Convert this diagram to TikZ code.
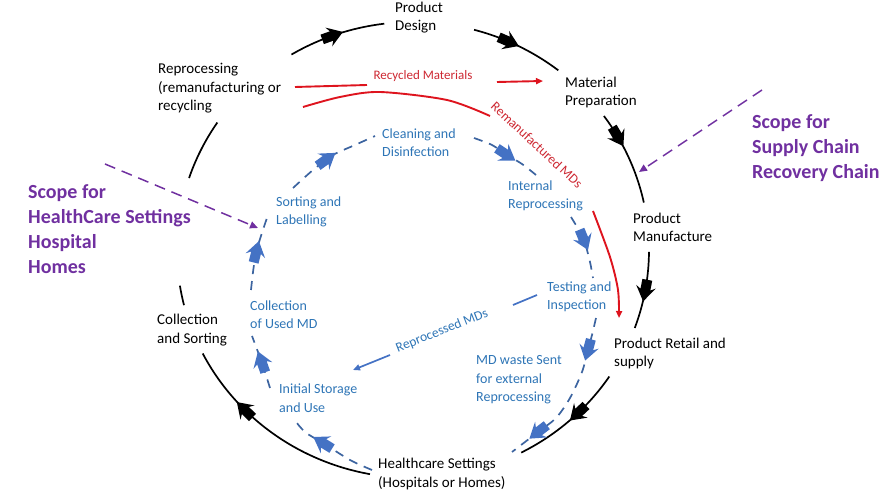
\documentclass[tikz,border=0pt]{standalone}
\usepackage{fontspec}
\setmainfont{Carlito}
\usetikzlibrary{arrows.meta,decorations.markings}
\definecolor{bluetxt}{RGB}{46,117,182}
\definecolor{bluearr}{RGB}{68,114,196}
\definecolor{bluedash}{RGB}{60,100,160}
\definecolor{redln}{RGB}{222,20,30}
\definecolor{redtxt}{RGB}{205,40,50}
\definecolor{purp}{RGB}{112,48,160}
\newcommand\fatarrowK{\fill[black] (-11,-5) -- (-1,-5) -- (-4,-10) -- (11,0) -- (-4,10) -- (-1,5) -- (-11,5) -- cycle;}
\newcommand\fatarrowB{\fill[bluearr] (-11,-5) -- (-1,-5) -- (-4,-10) -- (11,0) -- (-4,10) -- (-1,5) -- (-11,5) -- cycle;}
\begin{document}
\begin{tikzpicture}[x=1pt,y=-1pt,
  outer/.style={line width=1.7pt, black},
  inner/.style={line width=1.7pt, bluedash, dash pattern=on 9pt off 7pt},
  blk/.style={anchor=west, inner sep=0pt, align=left, font=\fontsize{15}{18.5}\selectfont},
  blu/.style={anchor=west, inner sep=0pt, align=left, text=bluetxt, font=\fontsize{14}{18.5}\selectfont},
  pur/.style={anchor=west, inner sep=0pt, align=left, text=purp, font=\fontsize{20}{25}\selectfont\bfseries},
  redlab/.style={inner sep=0pt, text=redtxt, font=\fontsize{13}{16}\selectfont},
  markK/.style={postaction={decorate, decoration={markings, mark=at position #1 with {\fatarrowK}}}},
  markB/.style={postaction={decorate, decoration={markings, mark=at position #1 with {\fatarrowB}}}},
  purarrow/.style={purp, line width=1.5pt, dash pattern=on 11pt off 7pt, -{Triangle[length=8pt,width=7pt]}},
  redline/.style={redln, line width=1.9pt},
  tip/.style={-{Triangle[length=7pt,width=6pt]}}
]
\useasboundingbox (0,0) rectangle (884,502);

% ---------- outer cycle ----------
\draw[outer, markK=0.46] plot[domain=121:97, samples=40] ({413+236*cos(\x)},{250-228*sin(\x)});
\draw[outer, markK=0.39] plot[domain=75:52, samples=40] ({413+236*cos(\x)},{250-228*sin(\x)});
\draw[outer, markK=0.26] plot[domain=36:12, samples=40] ({413+236*cos(\x)},{250-228*sin(\x)});
\draw[outer, markK=0.5] plot[domain=-0.5:-20, samples=40] ({413+236*cos(\x)},{250-228*sin(\x)});
\draw[outer, markK=0.41] plot[domain=-33.7:-62.7, samples=40] ({413+236*cos(\x)},{250-228*sin(\x)});
\draw[outer, markK=0.67] plot[domain=-100.5:-153, samples=60] ({413+236*cos(\x)},{250-228*sin(\x)});
\draw[outer] plot[domain=194:189, samples=10] ({413+236*cos(\x)},{250-228*sin(\x)});
\draw[outer] plot[domain=161.6:146, samples=20] ({413+236*cos(\x)},{250-228*sin(\x)});

% ---------- outer labels ----------
\node[blk] (design) at (395,17.5) {Product\\Design};
\node[blk] (material) at (565,92.5) {Material\\Preparation};
\node[blk] (manuf) at (633,227.5) {Product\\Manufacture};
\node[blk] (retail) at (614,353.5) {Product Retail and\\supply};
\node[blk] (health) at (378,474) {Healthcare Settings\\(Hospitals or Homes)};
\node[blk] (collect) at (157,330) {Collection\\and Sorting};
\node[blk] (reproc) at (158,88.5) {Reprocessing\\(remanufacturing or\\recycling};

% ---------- inner (healthcare) cycle ----------
\draw[inner, markB=0.45] plot[smooth] coordinates {(293,188) (313,170) (333,155) (355,145) (375,136)};
\draw[inner, markB=0.5] plot[smooth] coordinates {(474,138) (492,145) (507,155) (522,164) (536,175)};
\draw[inner, markB=0.4] plot[smooth] coordinates {(571,217) (580,232) (585,243) (590,262) (593,278)};
\draw[inner, postaction={decorate, decoration={markings,
    mark=at position 0.2 with {\fatarrowB},
    mark=at position 0.8 with {\fatarrowB}}}]
  plot[smooth] coordinates {(596,318) (592,335) (588,350) (582,372) (570,398) (556,418) (538,432) (512,452)};
\draw[inner, markB=0.59] plot[smooth] coordinates {(372,470) (350,460) (323,443) (305,432) (293,418)};
\draw[inner, markB=0.5] plot[smooth] coordinates {(270,388) (262,363) (252,336)};
\draw[inner, markB=0.5] plot[smooth] coordinates {(251,290) (256,253) (268,215)};

% ---------- inner labels ----------
\node[blu] (clean) at (382,142.5) {Cleaning and\\Disinfection};
\node[blu] (internal) at (508,196) {Internal\\Reprocessing};
\node[blu] (sorting) at (276,212) {Sorting and\\Labelling};
\node[blu] (testing) at (547,297) {Testing and\\Inspection};
\node[blu] (collused) at (250,314.5) {Collection\\of Used MD};
\node[blu] (initial) at (279,398) {Initial Storage\\and Use};
\node[blu] (mdwaste) at (476,380) {MD waste Sent\\for external\\Reprocessing};

% ---------- reprocessed MDs ----------
\coordinate (rpA) at (537,295);
\coordinate (rpB) at (513,305);
\coordinate (rpC) at (390,355);
\coordinate (rpD) at (353,370);
\node[inner sep=0pt, text=bluetxt, rotate=21.5, font=\fontsize{13.5}{16}\selectfont] (rptext) at (442,331) {Reprocessed MDs};
\draw[bluearr, line width=1.7pt] (rpA) -- (rpB);
\draw[bluearr, line width=1.7pt, tip] (rpC) -- (rpD);

% ---------- red flows ----------
\coordinate (rcA) at (295,87);
\coordinate (rcB) at (367,85);
\coordinate (rcC) at (497,82);
\coordinate (rcD) at (543,81);
\node[redlab] (rctext) at (423,76) {Recycled Materials};
\draw[redline] (rcA) -- (rcB);
\draw[redline, tip] (rcC) -- (rcD);

\draw[redline] plot[smooth] coordinates {(303,107) (340,97) (380,92) (447,100) (490,116)};
\node[redlab, rotate=-43, font=\fontsize{13.5}{16}\selectfont] (rmtext) at (537,145) {Remanufactured MDs};
\draw[redline, tip] plot[smooth] coordinates {(593,211) (610,257) (618,290) (619,318)};

% ---------- scopes ----------
\node[pur] (scopeL) at (28,229.5) {Scope for\\HealthCare Settings\\Hospital\\Homes};
\node[pur] (scopeR) at (752,148) {Scope for\\Supply Chain\\Recovery Chain};
\coordinate (pL1) at (105,164);
\coordinate (pL2) at (258,228);
\coordinate (pR1) at (762,90);
\coordinate (pR2) at (639,172);
\draw[purarrow] (pL1) -- (pL2);
\draw[purarrow] (pR1) -- (pR2);
\end{tikzpicture}
\end{document}
